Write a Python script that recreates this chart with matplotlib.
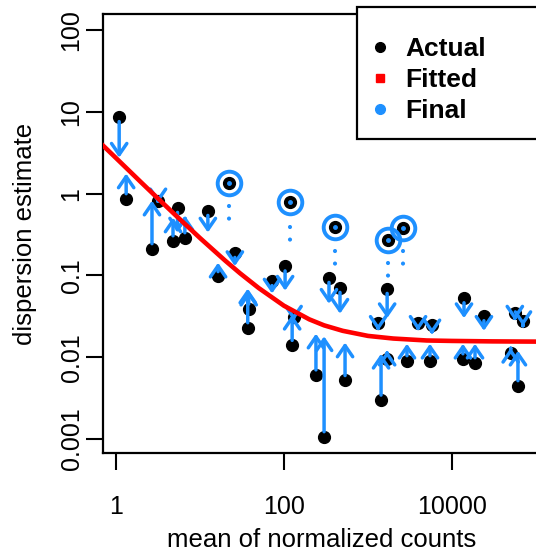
import matplotlib
matplotlib.use("Agg")
import matplotlib.pyplot as plt
from matplotlib.lines import Line2D
from matplotlib.patches import Rectangle

plt.rcParams['font.family'] = ['Liberation Sans', 'DejaVu Sans']

blue = '#1E90FF'

# per-gene dispersion: mean count, gene-wise (actual) estimate, shrunken (final) estimate
gene_mean = [1.09, 1.32, 2.68, 3.16, 4.77, 5.4, 6.6, 12.4, 16.4, 26, 37, 38,
             72, 103, 125, 130, 343, 464, 240, 300, 533, 1690, 1430, 1320,
             1690, 2910, 5470, 3940, 5780, 13900, 24000, 13500, 18800,
             56000, 70000, 61000, 50000]
gene_actual = [8.7, 0.87, 0.213, 0.82, 0.266, 0.675, 0.29, 0.62, 0.097, 0.19,
               0.023, 0.039, 0.086, 0.13, 0.014, 0.031, 0.094, 0.071, 0.0061,
               0.00107, 0.0052, 0.069, 0.0030, 0.0265, 0.0096, 0.0091, 0.0091,
               0.0265, 0.0245, 0.053, 0.032, 0.0096, 0.0086, 0.035, 0.028,
               0.0045, 0.0111]
gene_final = [2.75, 1.76, 0.82, 0.76, 0.51, 0.334, 0.54, 0.334, 0.143, 0.13,
              0.069, 0.065, 0.06, 0.065, 0.033, 0.028, 0.045, 0.034, 0.0194,
              0.018, 0.0151, 0.030, 0.011, 0.021, 0.012, 0.0146, 0.0146,
              0.021, 0.019, 0.030, 0.021, 0.0146, 0.0146, 0.028, 0.024,
              0.012, 0.013]

# dispersion outliers: kept at their gene-wise value
out_mean = [22, 118, 405, 1730, 2610]
out_actual = [1.36, 0.78, 0.395, 0.274, 0.384]
out_dot_top = [0.713, 0.395, 0.201, 0.143, 0.201]
out_dot_bottom = [0.442, 0.245, 0.125, 0.086, 0.121]

# fitted dispersion trend
fit_mean = [0.7, 1, 2, 3, 5, 10, 20, 30, 50, 100, 200, 300, 500, 1000, 2000,
            5000, 10000, 30000, 100000, 120000]
fit_disp = [3.87, 2.72, 1.366, 0.916, 0.556, 0.286, 0.151, 0.106, 0.070,
            0.0425, 0.029, 0.0245, 0.021, 0.0182, 0.0169, 0.0160, 0.0158,
            0.0156, 0.0155, 0.0155]

fig = plt.figure(figsize=(5.36, 5.51), dpi=100)
ax = fig.add_axes([0.1922, 0.1779, 0.8153, 0.7967])
ax.set_xscale('log')
ax.set_yscale('log')
ax.set_xlim(0.70, 111700)
ax.set_ylim(0.000674, 157)

# shrinkage arrows
for m, a, f in zip(gene_mean, gene_actual, gene_final):
    ax.annotate('', xy=(m, f), xytext=(m, a),
                arrowprops=dict(arrowstyle='->,head_length=0.8,head_width=0.55',
                                color=blue, lw=2.5, shrinkA=3.5, shrinkB=0,
                                mutation_scale=10),
                zorder=4)

ax.plot(gene_mean, gene_actual, 'o', color='black', markersize=8.5, zorder=3)

# outliers: circled, with a dotted drop line
for m, top, bot in zip(out_mean, out_dot_top, out_dot_bottom):
    ax.plot([m, m], [top, bot], color=blue, lw=3, linestyle=(0, (0.01, 3)),
            dash_capstyle='round', zorder=2)
ax.plot(out_mean, out_actual, 'o', color='black', markersize=8.5, zorder=3)
ax.plot(out_mean, out_actual, 'o', color=blue, markersize=2.5, zorder=3.5)
ax.plot(out_mean, out_actual, 'o', mfc='none', mec=blue, mew=2.8,
        markersize=17, zorder=3.5)

ax.plot(fit_mean, fit_disp, color='red', lw=3.3, zorder=6)

ax.set_xticks([1, 100, 10000])
ax.set_xticklabels(['1', '100', '10000'])
ax.set_yticks([0.001, 0.01, 0.1, 1, 10, 100])
ax.set_yticklabels(['0.001', '0.01', '0.1', '1', '10', '100'],
                   rotation=90, va='center')
ax.minorticks_off()
ax.tick_params(axis='both', length=12, width=1.5, labelsize=18)
ax.tick_params(axis='x', pad=18)
ax.tick_params(axis='y', pad=2)
for s in ax.spines.values():
    s.set_linewidth(1.6)

ax.set_xlabel('mean of normalized counts', fontsize=18.5)
ax.set_ylabel('dispersion estimate', fontsize=18.5)
ax.xaxis.set_label_coords(0.5, -0.172)
ax.yaxis.set_label_coords(-0.15, 0.5)

# legend box
ax.add_patch(Rectangle((0.581, 0.715), 0.5, 0.3, transform=ax.transAxes,
                       facecolor='white', edgecolor='black', lw=1.6,
                       zorder=7, clip_on=False))
handles = [
    Line2D([], [], marker='o', color='black', linestyle='none', markersize=7),
    Line2D([], [], marker='s', color='red', linestyle='none', markersize=6),
    Line2D([], [], marker='o', color=blue, linestyle='none', markersize=7),
]
leg = ax.legend(handles, ['Actual', 'Fitted', 'Final'], loc='upper left',
                bbox_to_anchor=(0.616, 0.948), frameon=False, borderpad=0,
                borderaxespad=0, handlelength=0.6, handletextpad=0.65,
                labelspacing=0.27, prop={'weight': 'bold', 'size': 19})
leg.set_zorder(8)

fig.savefig('out.png', dpi=100)
